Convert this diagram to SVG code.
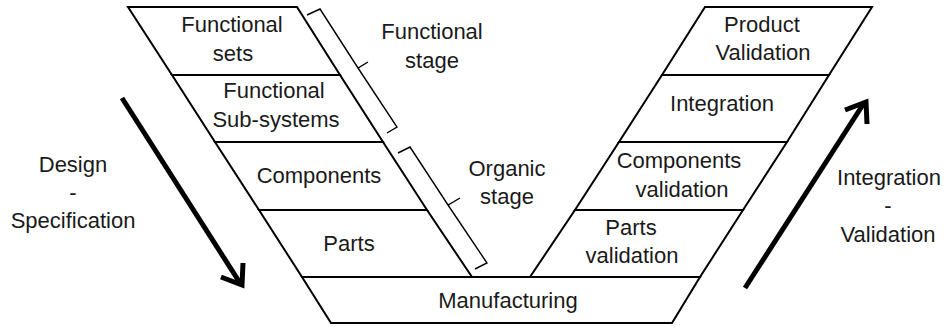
<svg xmlns="http://www.w3.org/2000/svg" width="948" height="327" viewBox="0 0 948 327">
<style>
.band{fill:#fff;stroke:#000;stroke-width:2;stroke-linejoin:miter}
.lbl{font-family:"Liberation Sans",Arial,sans-serif;font-size:22px;fill:#1a1a1a;text-anchor:middle}
.brace{fill:none;stroke:#000;stroke-width:1.4;stroke-linejoin:miter}
.arrow{fill:none;stroke:#000;stroke-width:5;stroke-linejoin:miter;stroke-miterlimit:10}
</style>
<rect width="948" height="327" fill="#fff"/>
<g id="functional-sets">
<polygon class="band" points="128,7 297,7 340,75 172,75"/>
<text class="lbl" x="232" y="32">Functional</text>
<text class="lbl" x="233" y="61">sets</text>
</g>
<g id="functional-subsystems">
<polygon class="band" points="172,75 340,75 383,142 215,142"/>
<text class="lbl" x="274" y="98">Functional</text>
<text class="lbl" x="276" y="127">Sub-systems</text>
</g>
<g id="components">
<polygon class="band" points="215,142 383,142 427,210 259,210"/>
<text class="lbl" x="319" y="183">Components</text>
</g>
<g id="parts">
<polygon class="band" points="259,210 427,210 472,277 302,277"/>
<text class="lbl" x="349" y="251">Parts</text>
</g>
<g id="manufacturing">
<polygon class="band" points="302,277 700,277 672,323 331,323"/>
<text class="lbl" x="508" y="308">Manufacturing</text>
</g>
<g id="parts-validation">
<polygon class="band" points="575,210 743,210 700,277 530,277"/>
<text class="lbl" x="631" y="235">Parts</text>
<text class="lbl" x="632" y="263">validation</text>
</g>
<g id="components-validation">
<polygon class="band" points="619,142 787,142 743,210 575,210"/>
<text class="lbl" x="679" y="168">Components</text>
<text class="lbl" x="682" y="197">validation</text>
</g>
<g id="integration">
<polygon class="band" points="662,75 829,75 787,142 619,142"/>
<text class="lbl" x="722" y="111">Integration</text>
</g>
<g id="product-validation">
<polygon class="band" points="705,7 872,7 829,75 662,75"/>
<text class="lbl" x="762" y="32">Product</text>
<text class="lbl" x="763" y="60">Validation</text>
</g>
<g id="functional-stage">
<path class="brace" d="M307,15 L320,9 L358,68 L368,62 M358,68 L397,127 L387,133"/>
<text class="lbl" x="432" y="39">Functional</text>
<text class="lbl" x="432" y="68">stage</text>
</g>
<g id="organic-stage">
<path class="brace" d="M398,153 L410,147 L448,205 L460,198 M448,205 L487,263 L475,269"/>
<text class="lbl" x="507" y="176">Organic</text>
<text class="lbl" x="507" y="204">stage</text>
</g>
<g id="connectors">
<g id="design-arrow">
<path class="arrow" d="M122,98 L240,283"/>
<path class="arrow" d="M221,277 L242,285 L243,263"/>
</g>
<g id="integration-arrow">
<path class="arrow" d="M745,288 L864,103"/>
<path class="arrow" d="M845,110 L866,102 L867,124"/>
</g>
</g>
<g id="design-label">
<text class="lbl" x="73" y="172">Design</text>
<text class="lbl" x="73" y="200">-</text>
<text class="lbl" x="73" y="228">Specification</text>
</g>
<g id="integration-label">
<text class="lbl" x="889" y="185">Integration</text>
<text class="lbl" x="888" y="213">-</text>
<text class="lbl" x="888" y="242">Validation</text>
</g>
</svg>
